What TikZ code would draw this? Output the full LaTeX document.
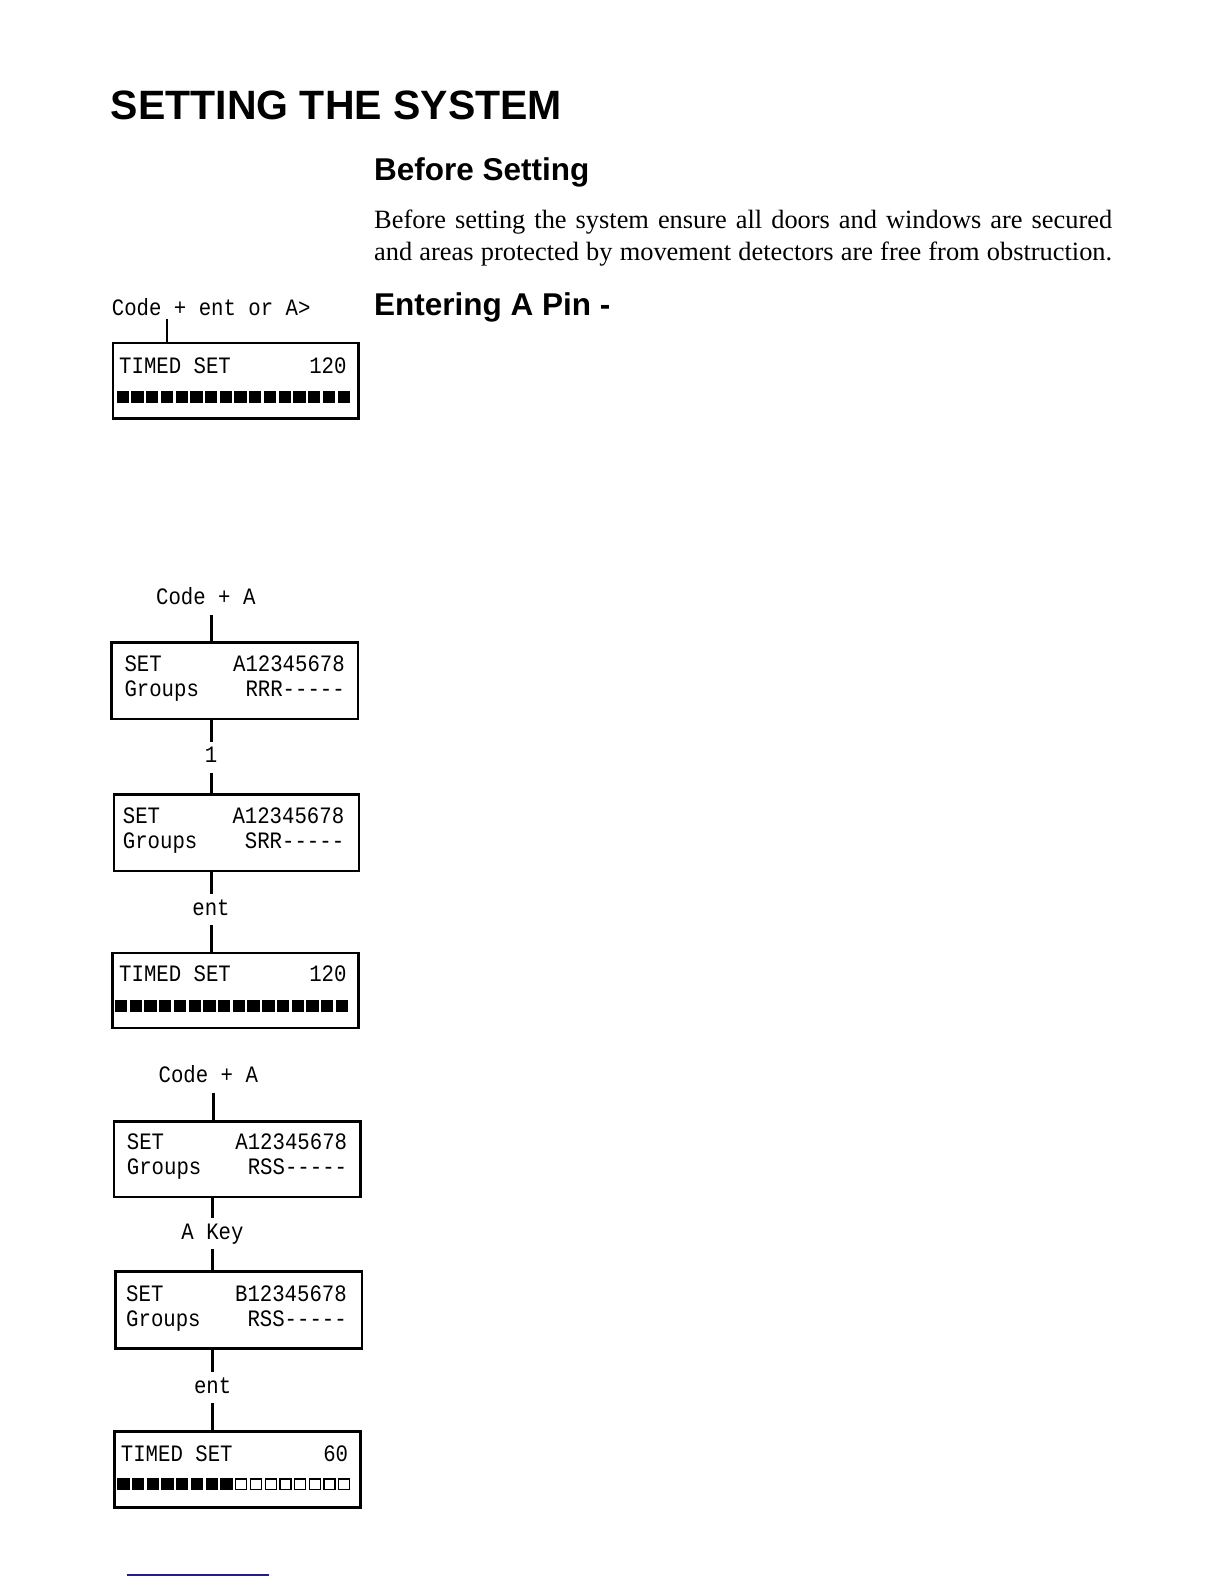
\documentclass[tikz,border=0pt]{standalone}
\usepackage{fontspec}
\setmainfont{Liberation Serif}
\newfontfamily\arialf{Liberation Sans}
\newfontfamily\lcdf[FakeStretch=0.88]{Liberation Mono}
\definecolor{rulenavy}{RGB}{30,30,140}
\tikzset{
  lcdbox/.style={draw, line width=2.5pt, inner sep=0pt, anchor=north west},
  lcdtxt/.style={font=\lcdf\fontsize{23.5}{28}\selectfont, inner sep=0pt},
  keylbl/.style={lcdtxt, anchor=base, text height=15pt, text depth=4pt, inner ysep=6pt, inner xsep=0pt},
  conn/.style={line width=3pt},
  thinconn/.style={line width=2pt},
  headbig/.style={font=\arialf\bfseries\fontsize{41}{48}\selectfont, inner sep=0pt, anchor=base west},
  headsub/.style={font=\arialf\bfseries\fontsize{31.5}{36}\selectfont, inner sep=0pt, anchor=base west},
  bodytxt/.style={font=\fontsize{26.4}{31}\selectfont, inner sep=0pt, anchor=base west},
}
\newcommand\lcdbar[3]{%
  \foreach \i in {0,...,15}{%
    \ifnum\i<#3\relax
      \fill (#1+\i*14.72, #2) rectangle ++(12.3,11.7);
    \else
      \draw[line width=1.3pt] (#1+\i*14.72+0.65, #2+0.65) rectangle ++(11,10.4);
    \fi}}
\begin{document}
\begin{tikzpicture}[x=1pt,y=-1pt]
\useasboundingbox (0,0) rectangle (1224,1584);

% headings and body
\node[headbig] (title) at (110.7,120) {SETTING THE SYSTEM};
\node[headsub] (before) at (374,180.7) {Before Setting};
\node[bodytxt] (body1) at (374,228.3) {\makebox[738pt][s]{Before setting the system ensure all doors and windows are secured}};
\node[bodytxt] (body2) at (374,260) {\makebox[738pt][s]{and areas protected by movement detectors are free from obstruction.}};
\node[headsub] (pin) at (374,315) {Entering A Pin -};

% --- Box 1
\node[lcdtxt, anchor=base west] (l1) at (111.7,315) {Code + ent or A>};
\coordinate (t1) at (166.7,319);
\node[lcdbox, minimum width=245.6pt, minimum height=75.6pt] (b1) at (111.7,341.7) {};
\draw[thinconn] (t1) -- (t1 |- b1.north);
\node[lcdtxt, anchor=base west] (b1a) at (119,373.3) {TIMED SET};
\node[lcdtxt, anchor=base east] (b1b) at (346.7,373.3) {120};
\lcdbar{116.7}{391}{16}

% --- Box 2
\node[keylbl] (k1) at (205.8,604.3) {Code + A};
\node[lcdbox, minimum width=246.7pt, minimum height=76.7pt] (b2) at (110,641) {};
\draw[conn] ([xshift=5.2pt]k1.south) -- ([xshift=5.2pt]k1.south |- b2.north);
\node[lcdtxt, anchor=base west] (b2a) at (124.3,671) {SET};
\node[lcdtxt, anchor=base east] (b2b) at (345,671) {A12345678};
\node[lcdtxt, anchor=base west] (b2c) at (124.3,696.7) {Groups};
\node[lcdtxt, anchor=base east] (b2d) at (345,696.7) {RRR-----};

% --- Box 3
\node[keylbl] (k2) at (211,762.7) {1};
\node[lcdbox, minimum width=245pt, minimum height=76.2pt] (b3) at (112.7,793.3) {};
\draw[conn] (k2.north |- b2.south) -- (k2.north);
\draw[conn] (k2.south) -- (k2.south |- b3.north);
\node[lcdtxt, anchor=base west] (b3a) at (122.7,823.3) {SET};
\node[lcdtxt, anchor=base east] (b3b) at (344.4,823.3) {A12345678};
\node[lcdtxt, anchor=base west] (b3c) at (122.7,848.3) {Groups};
\node[lcdtxt, anchor=base east] (b3d) at (344.4,848.3) {SRR-----};

% --- Box 4
\node[keylbl] (k3) at (211,915) {ent};
\node[lcdbox, minimum width=246.3pt, minimum height=75pt] (b4) at (111,951.7) {};
\draw[conn] (k3.north |- b3.south) -- (k3.north);
\draw[conn] (k3.south) -- (k3.south |- b4.north);
\node[lcdtxt, anchor=base west] (b4a) at (119,981.7) {TIMED SET};
\node[lcdtxt, anchor=base east] (b4b) at (346.7,981.7) {120};
\lcdbar{115}{1000}{16}

% --- Box 5
\node[keylbl] (k4) at (208.3,1082.7) {Code + A};
\node[lcdbox, minimum width=246.6pt, minimum height=75.7pt] (b5) at (112.7,1120) {};
\draw[conn] ([xshift=5pt]k4.south) -- ([xshift=5pt]k4.south |- b5.north);
\node[lcdtxt, anchor=base west] (b5a) at (126.7,1149.3) {SET};
\node[lcdtxt, anchor=base east] (b5b) at (347.3,1149.3) {A12345678};
\node[lcdtxt, anchor=base west] (b5c) at (126.7,1174.3) {Groups};
\node[lcdtxt, anchor=base east] (b5d) at (347.3,1174.3) {RSS-----};

% --- Box 6
\node[keylbl] (k5) at (212.5,1239) {A Key};
\node[lcdbox, minimum width=246.7pt, minimum height=77.3pt] (b6) at (114,1270) {};
\draw[conn] (k5.north |- b5.south) -- (k5.north);
\draw[conn] (k5.south) -- (k5.south |- b6.north);
\node[lcdtxt, anchor=base west] (b6a) at (126,1301.7) {SET};
\node[lcdtxt, anchor=base east] (b6b) at (347,1301.7) {B12345678};
\node[lcdtxt, anchor=base west] (b6c) at (126,1326.7) {Groups};
\node[lcdtxt, anchor=base east] (b6d) at (347,1326.7) {RSS-----};

% --- Box 7
\node[keylbl] (k6) at (212.7,1393) {ent};
\node[lcdbox, minimum width=245.7pt, minimum height=76pt] (b7) at (113.3,1430) {};
\draw[conn] (k6.north |- b6.south) -- (k6.north);
\draw[conn] (k6.south) -- (k6.south |- b7.north);
\node[lcdtxt, anchor=base west] (b7a) at (120.7,1461) {TIMED SET};
\node[lcdtxt, anchor=base east] (b7b) at (348.3,1461) {60};
\lcdbar{117.3}{1478.3}{8}

% footer rule
\draw[rulenavy, line width=1.4pt] (126.7,1575) -- (269,1575);
\end{tikzpicture}
\end{document}
